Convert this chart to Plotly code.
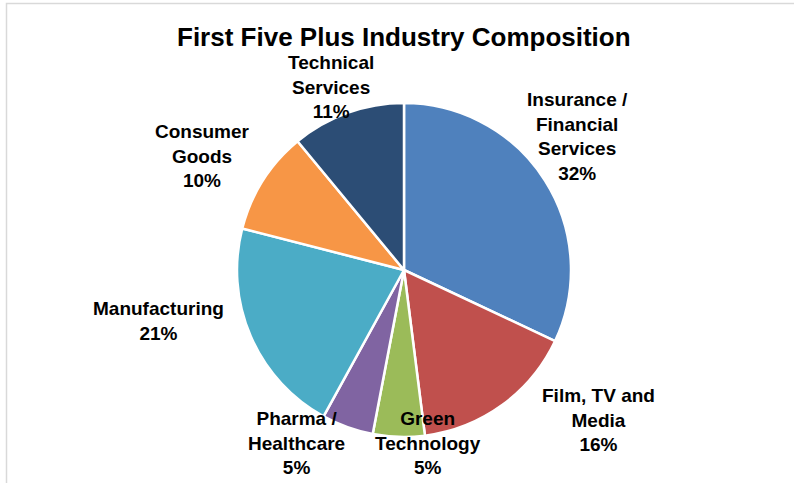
import plotly.graph_objects as go

# Industry mix (percent of total), listed clockwise from 12 o'clock
categories = [
    "Insurance / Financial Services",
    "Film, TV and Media",
    "Green Technology",
    "Pharma / Healthcare",
    "Manufacturing",
    "Consumer Goods",
    "Technical Services",
]
shares = [32, 16, 5, 5, 21, 10, 11]

# Category names as they wrap on the chart
wrapped_names = [
    "Insurance /<br>Financial<br>Services",
    "Film, TV and<br>Media",
    "Green<br>Technology",
    "Pharma /<br>Healthcare",
    "Manufacturing",
    "Consumer<br>Goods",
    "Technical<br>Services",
]

slice_colors = ["#4F81BD", "#C0504D", "#9BBB59", "#8064A2",
                "#4BACC6", "#F79646", "#2C4D75"]

W, H = 794, 483
CX, CY, R = 404, 270, 167   # pie centre / radius in pixels

# Data-label anchor points (pixel centres of each text block)
label_px = [(577, 136), (598, 420), (428, 443), (296, 443),
            (158, 321), (202, 156), (331, 87)]

FONT = "Liberation Sans, Arial, sans-serif"

fig = go.Figure(
    go.Pie(
        labels=categories,
        values=shares,
        sort=False,
        direction="clockwise",
        rotation=0,
        textinfo="none",
        marker=dict(colors=slice_colors, line=dict(color="white", width=2.5)),
        domain=dict(
            x=[(CX - R) / W, (CX + R) / W],
            y=[(H - CY - R) / H, (H - CY + R) / H],
        ),
        showlegend=False,
    )
)

for name, val, (px, py) in zip(wrapped_names, shares, label_px):
    lines = f"{name}<br>{val}%".split("<br>")
    fig.add_annotation(
        text="<br>".join(f"<b>{ln}</b>" for ln in lines),
        x=px / W, y=1 - py / H,
        xref="paper", yref="paper",
        xanchor="center", yanchor="middle",
        showarrow=False,
        align="center",
        font=dict(family=FONT, size=19, color="#000000"),
    )

# Chart title
fig.add_annotation(
    text="<b>First Five Plus Industry Composition</b>",
    x=404 / W, y=1 - 37 / H,
    xref="paper", yref="paper",
    xanchor="center", yanchor="middle",
    showarrow=False,
    font=dict(family=FONT, size=26, color="#000000"),
)

# Chart-area frame
fig.add_shape(
    type="rect", xref="paper", yref="paper",
    x0=6.5 / W, x1=1.2, y0=-0.2, y1=1 - 3.5 / H,
    line=dict(color="#D9D9D9", width=1.5),
    fillcolor="rgba(0,0,0,0)", layer="below",
)

fig.update_layout(
    width=W, height=H,
    margin=dict(l=0, r=0, t=0, b=0),
    paper_bgcolor="white",
    plot_bgcolor="white",
    font=dict(family=FONT),
)

fig.write_html("out.html")
